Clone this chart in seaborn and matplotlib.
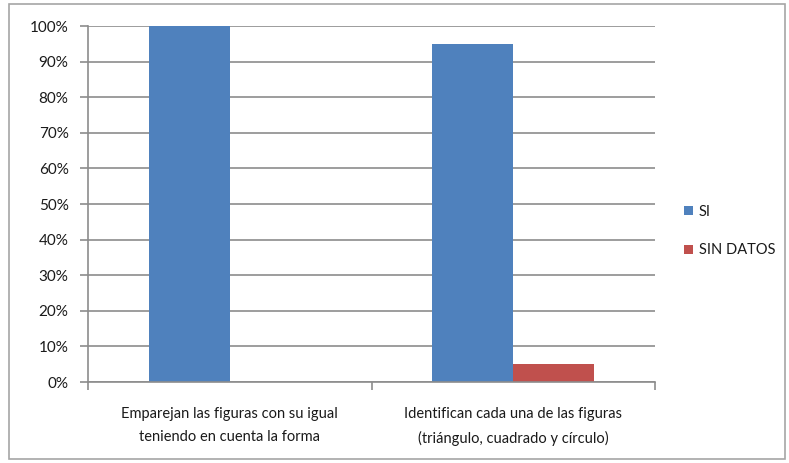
import numpy as np
import pandas as pd
import matplotlib
matplotlib.use("Agg")
import matplotlib.pyplot as plt
from matplotlib.patches import Rectangle
from matplotlib.ticker import PercentFormatter, FixedLocator
import seaborn as sns

categorias = ["Emparejan las figuras con su igual\nteniendo en cuenta la forma",
              "Identifican cada una de las figuras\n(triángulo, cuadrado y círculo)"]
series = ["SI", "SIN DATOS"]
si = [1.00, 0.95]
sin_datos = [0.00, 0.05]
colores = ["#4F81BD", "#C0504D"]

df = pd.DataFrame({
    "categoria": categorias * 2,
    "serie": [series[0]] * 2 + [series[1]] * 2,
    "valor": si + sin_datos,
})

sns.set_style("white")
plt.rcParams["font.family"] = ["Lato", "DejaVu Sans"]
plt.rcParams["text.color"] = "#1A1A1A"

fig = plt.figure(figsize=(7.89, 4.63), dpi=100)
ax = fig.add_axes([88 / 789, 81 / 463, 567 / 789, 356 / 463])

sns.barplot(data=df, x="categoria", y="valor", hue="serie", palette=colores,
            width=0.57, gap=0, edgecolor="none", linewidth=0, saturation=1,
            ax=ax, legend=True)

ax.set_xlim(-0.5, 1.5)
ax.set_ylim(0, 1)
ax.set_yticks(np.arange(0, 1.01, 0.1))
ax.yaxis.set_major_formatter(PercentFormatter(1.0, decimals=0))
ax.set_xlabel("")
ax.set_ylabel("")

gris = "#8C8C8C"
ax.grid(axis="y", color=gris, linewidth=1.2)
ax.set_axisbelow(True)
for s in ["top", "right"]:
    ax.spines[s].set_visible(False)
for s in ["left", "bottom"]:
    ax.spines[s].set_color(gris)
    ax.spines[s].set_linewidth(1.2)

ax.tick_params(axis="y", which="major", direction="out", length=6, color=gris,
               width=1.2, labelsize=11, pad=8, left=True, labelcolor="#1A1A1A")
ax.tick_params(axis="x", which="major", length=0, labelsize=10.5, pad=18,
               labelcolor="#1A1A1A")
for t in ax.get_xticklabels():
    t.set_linespacing(1.8)
ax.xaxis.set_minor_locator(FixedLocator([-0.5, 0.5, 1.5]))
ax.tick_params(axis="x", which="minor", direction="out", length=6, color=gris,
               width=1.2, bottom=True)

ax.legend(handles=ax.get_legend_handles_labels()[0], labels=series,
          loc="center left", bbox_to_anchor=(671 / 789, 232 / 463),
          bbox_transform=fig.transFigure, frameon=False, fontsize=10.5,
          handlelength=0.6, handleheight=0.6, handletextpad=0.4,
          labelspacing=1.7)

fig.patches.append(Rectangle((9 / 789, 4 / 463), 776 / 789, 455 / 463,
                             transform=fig.transFigure, fill=False,
                             edgecolor="#A6A6A6", linewidth=1.2))

fig.savefig("out.png", dpi=100)
